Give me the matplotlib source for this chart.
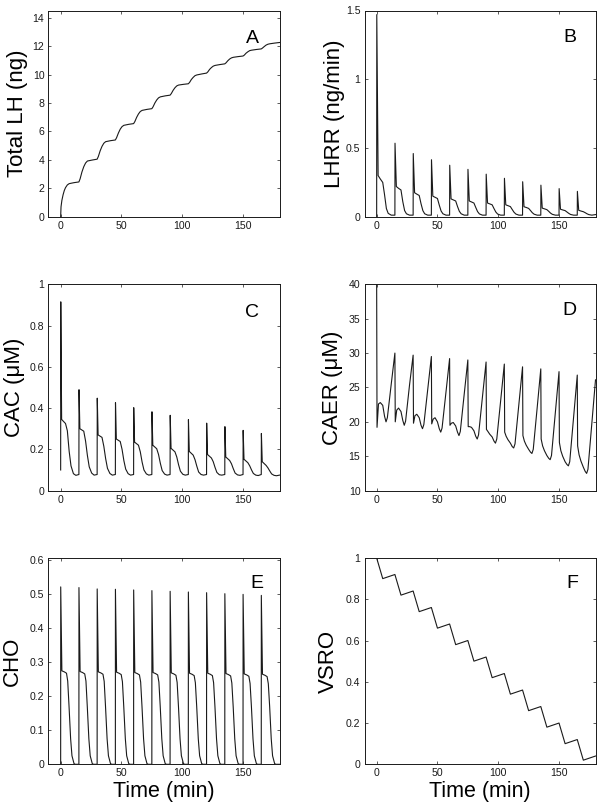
import matplotlib
matplotlib.use("Agg")
import matplotlib.pyplot as plt
from matplotlib.ticker import FormatStrFormatter, FuncFormatter

plt.rcParams['font.family'] = ['Liberation Sans', 'DejaVu Sans']

# ---------------- data ----------------
total_lh = [
    (0, 0), (0.3, 0.7), (1, 1.15), (2, 1.55), (3, 1.85), (4, 2.05), (5.5, 2.24), (7, 2.33), (11, 2.40),
    (15, 2.45), (16, 2.67), (17.5, 3.15), (19, 3.52), (20.5, 3.78), (22, 3.92), (26, 3.99),
    (30, 4.05), (31, 4.24), (32.5, 4.64), (34, 4.95), (35.5, 5.17), (37, 5.28), (41, 5.35),
    (45, 5.40), (46, 5.56), (47.5, 5.89), (49, 6.16), (50.5, 6.34), (52, 6.43), (56, 6.50),
    (60, 6.55), (61, 6.69), (62.5, 6.99), (64, 7.23), (65.5, 7.40), (67, 7.48), (71, 7.55),
    (75, 7.60), (76, 7.73), (77.5, 8.00), (79, 8.21), (80.5, 8.36), (82, 8.43), (86, 8.50),
    (90, 8.55), (91, 8.66), (92.5, 8.89), (94, 9.07), (95.5, 9.20), (97, 9.26), (101, 9.31),
    (105, 9.35), (106, 9.44), (107.5, 9.65), (109, 9.80), (110.5, 9.92), (112, 9.97), (116, 10.04),
    (120, 10.10), (121, 10.18), (122.5, 10.36), (124, 10.49), (125.5, 10.59), (127, 10.64), (131, 10.70),
    (135, 10.75), (136, 10.82), (137.5, 10.97), (139, 11.09), (140.5, 11.17), (142, 11.21), (146, 11.26),
    (150, 11.30), (151, 11.36), (152.5, 11.50), (154, 11.60), (155.5, 11.68), (157, 11.71), (161, 11.76),
    (165, 11.80), (166, 11.86), (167.5, 11.97), (169, 12.07), (170.5, 12.13), (172, 12.16), (176, 12.21),
    (180, 12.25),
]

lhrr = [
    (0, 0), (0.1, 1.47), (1.2, 0.30), (3, 0.275), (5, 0.25), (6.5, 0.16), (8, 0.06), (9.5, 0.025), (12, 0.012),
    (15, 0.012), (15.1, 0.535), (16.2, 0.22), (18, 0.207), (20, 0.195), (21.5, 0.11), (23, 0.045), (24.5, 0.022), (27, 0.012),
    (30, 0.012), (30.1, 0.46), (31.2, 0.175), (33, 0.165), (35, 0.155), (36.5, 0.095), (38, 0.045), (39.5, 0.022), (42, 0.012),
    (45, 0.012), (45.1, 0.415), (46.2, 0.15), (48, 0.142), (50, 0.133), (51.5, 0.085), (53, 0.042), (54.5, 0.022), (57, 0.012),
    (60, 0.012), (60.1, 0.375), (61.2, 0.13), (63, 0.123), (65, 0.115), (66.5, 0.075), (68, 0.04), (69.5, 0.022), (72, 0.012),
    (75, 0.012), (75.1, 0.345), (76.2, 0.115), (78, 0.108), (80, 0.10), (81.5, 0.068), (83, 0.038), (84.5, 0.021), (87, 0.012),
    (90, 0.012), (90.1, 0.31), (91.2, 0.10), (93, 0.094), (95, 0.087), (96.5, 0.06), (98, 0.035), (99.5, 0.02), (102, 0.012),
    (105, 0.012), (105.1, 0.28), (106.2, 0.087), (108, 0.081), (110, 0.074), (111.5, 0.053), (113, 0.033), (114.5, 0.02), (117, 0.012),
    (120, 0.012), (120.1, 0.255), (121.2, 0.073), (123, 0.068), (125, 0.061), (126.5, 0.046), (128, 0.03), (129.5, 0.019), (132, 0.012),
    (135, 0.012), (135.1, 0.23), (136.2, 0.063), (138, 0.058), (140, 0.052), (141.5, 0.04), (143, 0.027), (144.5, 0.018), (147, 0.012),
    (150, 0.012), (150.1, 0.205), (151.2, 0.055), (153, 0.05), (155, 0.045), (156.5, 0.035), (158, 0.025), (159.5, 0.017), (162, 0.012),
    (165, 0.012), (165.1, 0.185), (166.2, 0.047), (168, 0.042), (170, 0.037), (171.5, 0.03), (173, 0.022), (174.5, 0.016), (177, 0.012),
    (180, 0.016),
]

cac = [
    (0, 0.10), (0.1, 0.915), (0.8, 0.345), (4, 0.325), (5.5, 0.29), (7, 0.19), (8.5, 0.12), (10.5, 0.082), (12.5, 0.074),
    (15, 0.078), (15.1, 0.489), (15.8, 0.30), (19, 0.288), (20.5, 0.24), (22, 0.17), (23.5, 0.115), (25.5, 0.085), (27.5, 0.075),
    (30, 0.078), (30.1, 0.448), (30.8, 0.27), (34, 0.258), (35.5, 0.215), (37, 0.155), (38.5, 0.108), (40.5, 0.083), (42.5, 0.075),
    (45, 0.078), (45.1, 0.426), (45.8, 0.25), (49, 0.238), (50.5, 0.20), (52, 0.145), (53.5, 0.104), (55.5, 0.082), (57.5, 0.075),
    (60, 0.078), (60.1, 0.402), (60.8, 0.235), (64, 0.22), (65.5, 0.188), (67, 0.138), (68.5, 0.10), (70.5, 0.081), (72.5, 0.075),
    (75, 0.078), (75.1, 0.382), (75.8, 0.22), (79, 0.203), (80.5, 0.175), (82, 0.132), (83.5, 0.097), (85.5, 0.08), (87.5, 0.075),
    (90, 0.078), (90.1, 0.365), (90.8, 0.205), (94, 0.188), (95.5, 0.163), (97, 0.125), (98.5, 0.094), (100.5, 0.079), (102.5, 0.075),
    (105, 0.078), (105.1, 0.344), (105.8, 0.19), (109, 0.172), (110.5, 0.15), (112, 0.118), (113.5, 0.09), (115.5, 0.078), (117.5, 0.075),
    (120, 0.078), (120.1, 0.327), (120.8, 0.175), (124, 0.158), (125.5, 0.14), (127, 0.112), (128.5, 0.088), (130.5, 0.077), (132.5, 0.075),
    (135, 0.078), (135.1, 0.31), (135.8, 0.163), (139, 0.146), (140.5, 0.13), (142, 0.106), (143.5, 0.085), (145.5, 0.076), (147.5, 0.074),
    (150, 0.078), (150.1, 0.292), (150.8, 0.152), (154, 0.135), (155.5, 0.12), (157, 0.10), (158.5, 0.083), (160.5, 0.075), (162.5, 0.073),
    (165, 0.078), (165.1, 0.277), (165.8, 0.140), (169, 0.122), (170.5, 0.11), (172, 0.095), (173.5, 0.081), (175.5, 0.074), (177.5, 0.072),
    (180, 0.075),
]

caer = [
    (0, 40.0), (0.3, 19.2), (1.5, 22.6), (3, 22.8), (5, 22.4), (6.5, 20.8), (7.7, 20.0), (8.8, 20.6), (12, 25.5),
    (15, 30.0), (15.3, 20.0), (16.5, 21.7), (18, 22.0), (20, 21.5), (21.5, 20.2), (22.7, 19.5), (23.8, 20.1), (27, 25.3),
    (30, 29.7), (30.3, 19.8), (31.5, 20.9), (33, 21.1), (35, 20.6), (36.5, 19.5), (37.7, 19.0), (38.8, 19.6), (42, 24.7),
    (45, 29.5), (45.3, 19.7), (46.5, 20.4), (48, 20.6), (50, 20.0), (51.5, 19.0), (52.7, 18.5), (53.8, 19.1), (57, 24.3),
    (60, 29.2), (60.3, 19.5), (61.5, 19.8), (63, 19.9), (65, 19.4), (66.5, 18.5), (67.7, 18.0), (68.8, 18.6), (72, 24.0),
    (75, 29.0), (75.3, 19.3), (76.5, 19.3), (78, 19.2), (80, 18.7), (81.5, 17.9), (82.7, 17.5), (83.8, 18.1), (87, 23.6),
    (90, 28.7), (90.3, 18.9), (91.5, 18.6), (93, 18.2), (95, 17.8), (96.5, 17.2), (97.7, 16.9), (98.8, 17.5), (102, 23.1),
    (105, 28.4), (105.3, 18.5), (106.5, 17.9), (108, 17.4), (110, 16.9), (111.5, 16.4), (112.7, 16.2), (113.8, 16.8), (117, 22.6),
    (120, 28.0), (120.3, 18.0), (121.5, 17.2), (123, 16.6), (125, 16.0), (126.5, 15.6), (127.7, 15.4), (128.8, 16.0), (132, 22.0),
    (135, 27.7), (135.3, 17.5), (136.5, 16.5), (138, 15.8), (140, 15.1), (141.5, 14.7), (142.7, 14.5), (143.8, 15.1), (147, 21.4),
    (150, 27.3), (150.3, 17.0), (151.5, 15.8), (153, 15.0), (155, 14.2), (156.5, 13.8), (157.7, 13.6), (158.8, 14.2), (162, 20.7),
    (165, 26.8), (165.3, 16.5), (166.5, 15.2), (168, 14.3), (170, 13.4), (171.5, 12.8), (172.7, 12.5), (173.8, 13.1), (177, 19.8),
    (180, 26.1),
]

cho = [
    (0, 0), (0.05, .522), (1, .275), (3, .272), (4.8, .268), (5.8, .245), (6.9, .17), (8.2, .075), (9.3, .025), (11, .002), (12, 0),
    (15, 0), (15.05, .520), (16, .273), (18, .270), (19.8, .266), (20.8, .245), (21.9, .17), (23.2, .075), (24.3, .025), (26, .002), (27, 0),
    (30, 0), (30.05, .516), (31, .272), (33, .269), (34.8, .265), (35.8, .244), (36.9, .17), (38.2, .075), (39.3, .025), (41, .002), (42, 0),
    (45, 0), (45.05, .515), (46, .271), (48, .268), (49.8, .264), (50.8, .243), (51.9, .17), (53.2, .075), (54.3, .025), (56, .002), (57, 0),
    (60, 0), (60.05, .513), (61, .270), (63, .267), (64.8, .263), (65.8, .242), (66.9, .17), (68.2, .075), (69.3, .025), (71, .002), (72, 0),
    (75, 0), (75.05, .511), (76, .270), (78, .267), (79.8, .263), (80.8, .242), (81.9, .17), (83.2, .075), (84.3, .025), (86, .002), (87, 0),
    (90, 0), (90.05, .509), (91, .269), (93, .266), (94.8, .262), (95.8, .241), (96.9, .17), (98.2, .075), (99.3, .025), (101, .002), (102, 0),
    (105, 0), (105.05, .507), (106, .268), (108, .265), (109.8, .261), (110.8, .240), (111.9, .17), (113.2, .075), (114.3, .025), (116, .002), (117, 0),
    (120, 0), (120.05, .505), (121, .268), (123, .265), (124.8, .261), (125.8, .240), (126.9, .17), (128.2, .075), (129.3, .025), (131, .002), (132, 0),
    (135, 0), (135.05, .502), (136, .267), (138, .264), (139.8, .260), (140.8, .239), (141.9, .17), (143.2, .075), (144.3, .025), (146, .002), (147, 0),
    (150, 0), (150.05, .500), (151, .266), (153, .263), (154.8, .259), (155.8, .238), (156.9, .17), (158.2, .075), (159.3, .025), (161, .002), (162, 0),
    (165, 0), (165.05, .497), (166, .265), (168, .262), (169.8, .258), (170.8, .237), (171.9, .17), (173.2, .075), (174.3, .025), (176, .002), (177, 0),
    (180, 0),
]

vsro = [
    (0, 1.0), (5, 0.90), (15, 0.92), (20, 0.82), (30, 0.84), (35, 0.74), (45, 0.76), (50, 0.66),
    (60, 0.68), (65, 0.58), (75, 0.60), (80, 0.50), (90, 0.52), (95, 0.42), (105, 0.44), (110, 0.34),
    (120, 0.36), (125, 0.26), (135, 0.28), (140, 0.18), (150, 0.20), (155, 0.10), (165, 0.12), (170, 0.02),
    (180, 0.04),
]

panel_letters = ['A', 'B', 'C', 'D', 'E', 'F']
y_labels = ['Total LH (ng)', 'LHRR (ng/min)', 'CAC (\u03bcM)', 'CAER (\u03bcM)', 'CHO', 'VSRO']
y_limits = [(0, 14.5), (0, 1.5), (0, 1), (10, 40), (0, 0.607), (0, 1)]
y_ticks = [[0, 2, 4, 6, 8, 10, 12, 14], [0, 0.5, 1, 1.5], [0, 0.2, 0.4, 0.6, 0.8, 1],
           [10, 15, 20, 25, 30, 35, 40], [0, 0.1, 0.2, 0.3, 0.4, 0.5, 0.6], [0, 0.2, 0.4, 0.6, 0.8, 1]]
x_ticks = [0, 50, 100, 150]
series = [total_lh, lhrr, cac, caer, cho, vsro]

# ---------------- layout ----------------
W, H = 600, 807
fig = plt.figure(figsize=(W / 100, H / 100), dpi=100)

col_left = [48.5, 364.5]
row_top = [10.5, 284.3, 558.0]
ax_w, ax_h = 231.0, 206.3

ylabel_x = [-0.09, -0.085, -0.10, -0.093, -0.11, -0.11]
letter_pos = [(0.885, 0.841), (0.887, 0.849), (0.881, 0.843), (0.888, 0.851), (0.90, 0.853), (0.90, 0.855)]

for i in range(6):
    r, c = divmod(i, 2)
    left = col_left[c] / W
    bottom = 1 - (row_top[r] + ax_h) / H
    ax = fig.add_axes([left, bottom, ax_w / W, ax_h / H])
    ts = [p[0] for p in series[i]]
    vs = [p[1] for p in series[i]]
    ax.plot(ts, vs, color='#1a1a1a', lw=0.8, clip_on=True)
    ax.set_xlim(-10, 180)
    ax.set_ylim(*y_limits[i])
    ax.set_xticks(x_ticks)
    ax.set_yticks(y_ticks[i])
    ax.yaxis.set_major_formatter(FuncFormatter(lambda v, p: ('%g' % v)))
    ax.tick_params(direction='in', length=2.5, width=0.5, top=True, right=True,
                   labelsize=7.6, pad=3, colors='#1a1a1a')
    for s in ax.spines.values():
        s.set_linewidth(0.7)
        s.set_color('#1a1a1a')
    ax.set_ylabel(y_labels[i], fontsize=16)
    ax.yaxis.set_label_coords(ylabel_x[i], 0.5)
    lx, ly = letter_pos[i]
    ax.text(lx, ly, panel_letters[i], transform=ax.transAxes, fontsize=14,
            ha='center', va='baseline')
    if r == 2:
        ax.set_xlabel('Time (min)', fontsize=15.5, va='top')
        ax.xaxis.set_label_coords(0.5, -0.083)

fig.savefig('out.png', dpi=100)
